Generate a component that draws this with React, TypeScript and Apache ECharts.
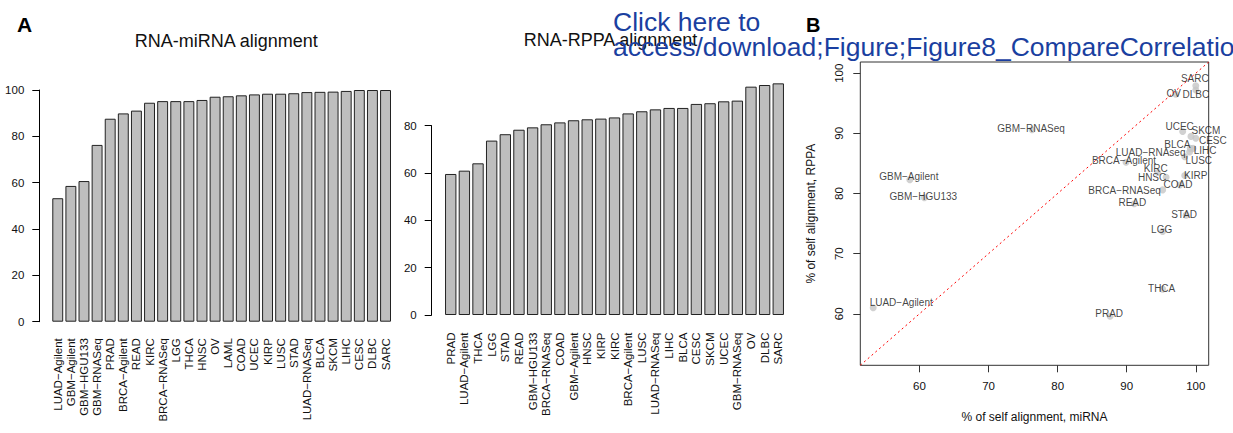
import React, { useEffect, useRef } from "react";
import * as echarts from "echarts";

const FONT = "'Liberation Sans', Arial, Helvetica, sans-serif";

// RNA-miRNA alignment (% of self alignment)
const mirnaCats = [
  "LUAD−Agilent", "GBM−Agilent", "GBM−HGU133", "GBM−RNASeq", "PRAD", "BRCA−Agilent", "READ",
  "KIRC", "BRCA−RNASeq", "LGG", "THCA", "HNSC", "OV", "LAML", "COAD", "UCEC", "KIRP", "LUSC",
  "STAD", "LUAD−RNASeq", "BLCA", "SKCM", "LIHC", "CESC", "DLBC", "SARC",
];
const mirnaValues = [
  53.3, 58.6, 60.7, 76.3, 87.6, 89.9, 91.1, 94.5, 95.2, 95.2, 95.2, 95.7, 97.1, 97.3, 97.7,
  98.1, 98.4, 98.4, 98.6, 99.1, 99.2, 99.3, 99.6, 100, 100, 100,
];

// RNA-RPPA alignment (% of self alignment)
const rppaCats = [
  "PRAD", "LUAD−Agilent", "THCA", "LGG", "STAD", "READ", "GBM−HGU133", "BRCA−RNASeq", "COAD",
  "GBM−Agilent", "HNSC", "KIRP", "KIRC", "BRCA−Agilent", "LUSC", "LUAD−RNASeq", "LIHC", "BLCA",
  "CESC", "SKCM", "UCEC", "GBM−RNASeq", "OV", "DLBC", "SARC",
];
const rppaValues = [
  59.6, 61.0, 64.1, 73.7, 76.4, 78.3, 79.3, 80.6, 81.4, 82.3, 82.7, 83.0, 83.5, 85.2, 86.1,
  86.9, 87.5, 87.5, 89.2, 89.5, 90.3, 90.6, 96.5, 97.2, 97.9,
];

// label nudges (px) for the scatter labels, in rppaCats order
const labelNudge = [
  [-1, -3], [28, -5], [-1, -1], [-1, -2], [-2, -1], [-2, -1], [-1, -1], [-38, 1], [-2, -1],
  [-1, -3], [-14, 0], [11, 0], [-2, -4], [-2, -2], [14, 4], [-39, 0], [12, 2], [-13, -4],
  [17, 2], [15, -6], [-3, -5], [-1, -1], [-2, -1], [0, 4], [-1, -7],
];
const scatterRename: Record<string, string> = { "LUAD−RNASeq": "LUAD−RNAseq" };

const leftTicks = [0, 20, 40, 60, 80, 100];
const midTicks = [0, 20, 40, 60, 80];
const scatterTicks = [60, 70, 80, 90, 100];

export default function App() {
  const ref = useRef<HTMLDivElement>(null);
  useEffect(() => {
    if (!ref.current) return;
    const chart = echarts.init(ref.current, undefined, { renderer: "svg" });

    const scatterPts = rppaCats.map((c, i) => {
      const mi = mirnaValues[mirnaCats.indexOf(c)];
      return {
        value: [mi, rppaValues[i]],
        name: scatterRename[c] || c,
        label: { offset: labelNudge[i] },
      };
    });
    const all = scatterPts.flatMap((p) => p.value as number[]);
    const lo = Math.min(...all);
    const hi = Math.max(...all);
    const pad = 0.04 * (hi - lo);
    const aMin = lo - pad;
    const aMax = hi + pad;

    const barAxisLabel = {
      rotate: 90,
      interval: 0,
      fontSize: 11.5,
      color: "#111",
      fontFamily: FONT,
    };
    const yLab = { fontSize: 11.5, color: "#111", fontFamily: FONT, margin: 15 };
    const barStyle = { color: "#bebebe", borderColor: "#222", borderWidth: 1 };

    chart.setOption({
      animation: false,
      backgroundColor: "#fff",
      textStyle: { fontFamily: FONT },
      grid: [
        { left: 51.2, top: 90, width: 340.9, height: 231.7 },
        { left: 443.9, top: 125.7, width: 341.2, height: 189.3 },
        {
          left: 860.3, top: 62, width: 348.4, height: 303.3,
          show: true, borderColor: "#333", borderWidth: 1, backgroundColor: "transparent",
        },
      ],
      xAxis: [
        {
          gridIndex: 0, type: "category", data: mirnaCats,
          axisLine: { show: false }, axisTick: { show: false },
          axisLabel: { ...barAxisLabel, margin: 16.5 },
        },
        {
          gridIndex: 1, type: "category", data: rppaCats,
          axisLine: { show: false }, axisTick: { show: false },
          axisLabel: { ...barAxisLabel, margin: 17.5 },
        },
        {
          gridIndex: 2, type: "value", min: aMin, max: aMax,
          axisLine: { show: false },
          axisTick: { show: true, length: 7, customValues: scatterTicks, lineStyle: { color: "#333" } },
          axisLabel: { customValues: scatterTicks, fontSize: 11.5, color: "#111", margin: 15 },
          splitLine: { show: false },
          name: "% of self alignment, miRNA", nameLocation: "middle", nameGap: 46,
          nameTextStyle: { fontSize: 12, color: "#111" },
        },
      ],
      yAxis: [
        {
          gridIndex: 0, type: "value", min: leftTicks[0], max: leftTicks[leftTicks.length - 1], interval: 20,
          offset: 11.9,
          axisLine: { show: true, lineStyle: { color: "#000" } },
          axisTick: { show: true, length: 7, lineStyle: { color: "#000" } },
          axisLabel: yLab, splitLine: { show: false },
        },
        {
          gridIndex: 1, type: "value", min: midTicks[0], max: midTicks[midTicks.length - 1], interval: 20,
          offset: 12.2,
          axisLine: { show: true, lineStyle: { color: "#000" } },
          axisTick: { show: true, length: 7, lineStyle: { color: "#000" } },
          axisLabel: yLab, splitLine: { show: false },
        },
        {
          gridIndex: 2, type: "value", min: aMin, max: aMax,
          axisLine: { show: false },
          axisTick: { show: true, length: 7, customValues: scatterTicks, lineStyle: { color: "#333" } },
          axisLabel: { customValues: scatterTicks, fontSize: 11.5, color: "#111", margin: 15, rotate: 90 },
          splitLine: { show: false },
          name: "% of self alignment, RPPA", nameLocation: "middle", nameGap: 43,
          nameTextStyle: { fontSize: 12, color: "#111" },
        },
      ],
      series: [
        {
          type: "bar", xAxisIndex: 0, yAxisIndex: 0, data: mirnaValues,
          barWidth: "83.3%", itemStyle: barStyle, clip: false,
        },
        {
          type: "bar", xAxisIndex: 1, yAxisIndex: 1, data: rppaValues,
          barWidth: "83.3%", itemStyle: barStyle, clip: false,
        },
        {
          type: "line", xAxisIndex: 2, yAxisIndex: 2,
          data: [[aMin, aMin], [aMax, aMax]],
          symbol: "none", silent: true,
          lineStyle: { color: "#ff0000", width: 1, type: [2, 3] },
        },
        {
          type: "scatter", xAxisIndex: 2, yAxisIndex: 2, data: scatterPts,
          symbolSize: 7, itemStyle: { color: "#c6c6c6" },
          label: {
            show: true, position: "inside", formatter: "{b}",
            fontSize: 10, color: "#111", fontFamily: FONT,
          },
        },
      ],
      graphic: [
        { type: "text", left: 17, top: 14, style: { text: "A", fontSize: 21, fontWeight: "bold", fill: "#000", fontFamily: FONT } },
        { type: "text", left: 806, top: 15, style: { text: "B", fontSize: 20, fontWeight: "bold", fill: "#000", fontFamily: FONT } },
        { type: "text", x: 226.3, y: 40.5, style: { text: "RNA-miRNA alignment", fontSize: 18, fill: "#111", fontFamily: FONT, align: "center", verticalAlign: "middle" } },
        { type: "text", x: 610.5, y: 39.5, style: { text: "RNA-RPPA alignment", fontSize: 18, fill: "#111", fontFamily: FONT, align: "center", verticalAlign: "middle" } },
        { type: "text", z: 100, x: 613, y: 22.4, style: { text: "Click here to", fontSize: 26.5, fill: "#1a3fa0", fontFamily: FONT, align: "left", verticalAlign: "middle" } },
        { type: "text", z: 100, x: 613, y: 47.4, style: { text: "access/download;Figure;Figure8_CompareCorrelation", fontSize: 26.5, fill: "#1a3fa0", fontFamily: FONT, align: "left", verticalAlign: "middle" } },
      ],
    });
    return () => chart.dispose();
  }, []);
  return (
    <div
      ref={ref}
      style={{ position: "fixed", left: 0, top: 0, width: 1233, height: 433, background: "#fff" }}
    />
  );
}
